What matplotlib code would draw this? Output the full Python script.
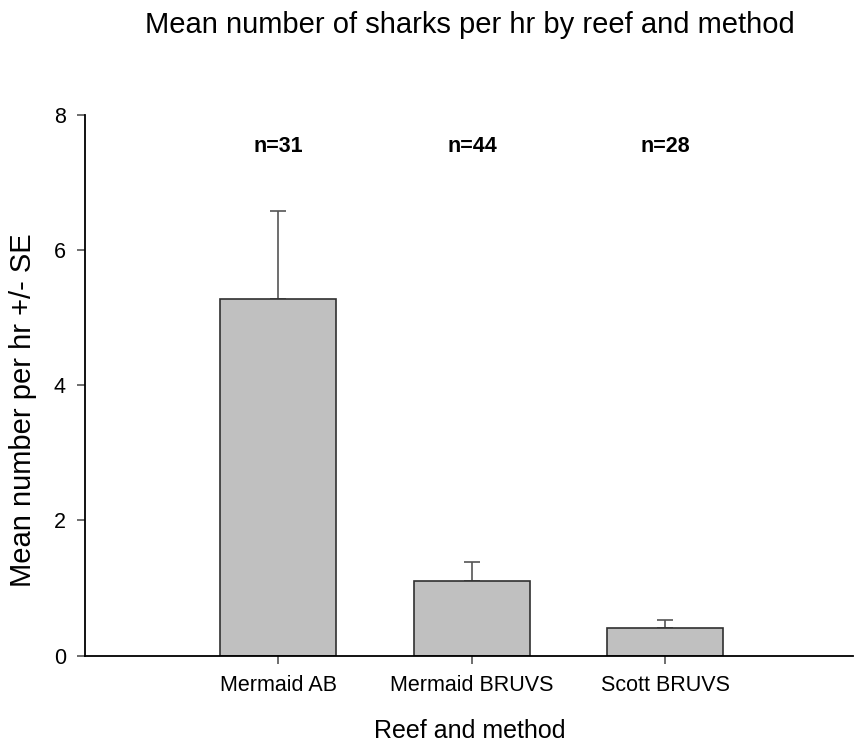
import matplotlib
matplotlib.use("Agg")
import matplotlib.pyplot as plt

# Mean sharks per hour by reef/method, with standard errors and sample sizes
categories = ["Mermaid AB", "Mermaid BRUVS", "Scott BRUVS"]
means = [5.28, 1.11, 0.40]
se = [1.30, 0.27, 0.12]
n_labels = ["n=31", "n=44", "n=28"]
y_ticks = [0, 2, 4, 6, 8]

plt.rcParams["font.family"] = ["Liberation Sans", "DejaVu Sans"]

W, H = 857, 746
fig = plt.figure(figsize=(W / 100, H / 100), dpi=100)
ax = fig.add_axes([85 / W, 1 - 655.5 / H, (853 - 85) / W, (655.5 - 115) / H])

x = [1, 2, 3]
ax.bar(x, means, width=0.6, color="#c0c0c0", edgecolor="#303030", linewidth=1.2, zorder=2)
ax.errorbar(x, means, yerr=[[0, 0, 0], se], fmt="none", ecolor="#555555",
            elinewidth=1.2, capsize=6, capthick=1.2, zorder=1)

for xi, lab in zip(x, n_labels):
    ax.text(xi, 7.54, lab, ha="center", va="center", fontsize=15.5, fontweight="bold")

ax.set_xlim(0, 3.97)
ax.set_ylim(0, 8)
ax.set_xticks(x)
ax.set_xticklabels(categories)
ax.set_yticks(y_ticks)
ax.set_yticklabels([str(t) for t in y_ticks])

for side in ("top", "right"):
    ax.spines[side].set_visible(False)
for side in ("left", "bottom"):
    ax.spines[side].set_linewidth(1.3)
    ax.spines[side].set_color("black")

ax.tick_params(axis="y", direction="out", length=5.8, width=1.2, color="#555555",
               labelsize=15.5, pad=8)
ax.tick_params(axis="x", direction="out", length=5.8, width=1.2, color="#555555",
               labelsize=15.5, pad=8)

fig.text(470 / W, 1 - 25 / H, "Mean number of sharks per hr by reef and method",
         ha="center", va="center", fontsize=21)
fig.text(23 / W, 1 - 410 / H, "Mean number per hr +/- SE", rotation=90,
         ha="center", va="center", fontsize=21)
fig.text(470 / W, 1 - 731 / H, "Reef and method", ha="center", va="center", fontsize=18)

fig.savefig("out.png", dpi=100)
